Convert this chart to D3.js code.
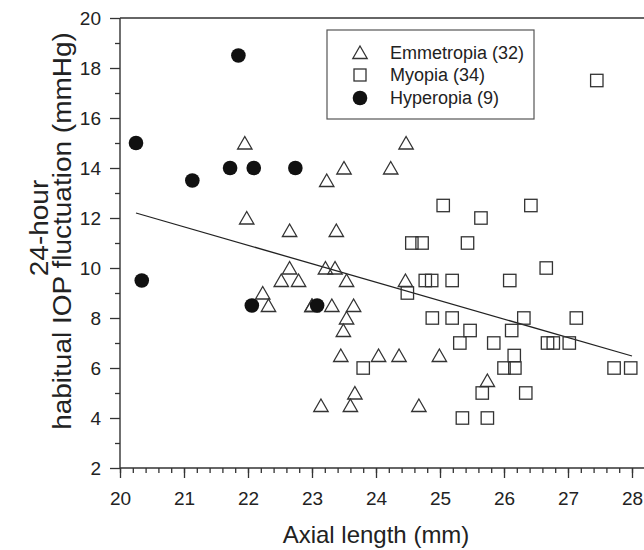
<!DOCTYPE html>
<html>
<head>
<meta charset="utf-8">
<script src="https://cdn.jsdelivr.net/npm/d3@7"></script>
<style>
  body { margin: 0; background: #fff; }
  text { font-family: "Liberation Sans", Arial, sans-serif; fill: #222; }
</style>
</head>
<body>
<svg id="chart" width="644" height="550"></svg>
<script>
    // emmetropia (triangles)
    var emmX = [21.95, 24.47, 23.5, 24.23, 23.23, 21.98, 22.65, 23.38, 23.21, 23.36,
                23.54, 24.46, 23.31, 23.65, 23.54, 23.49, 23.45, 24.04, 24.36, 24.99,
                23.67, 23.14, 23.6, 24.67, 25.74, 22.65, 22.52, 22.79, 22.23, 22.32,
                23.0, 23.0];
    var emmY = [15, 15, 14, 14, 13.5, 12, 11.5, 11.5, 10, 10,
                9.5, 9.5, 8.5, 8.5, 8, 7.5, 6.5, 6.5, 6.5, 6.5,
                5, 4.5, 4.5, 4.5, 5.5, 10, 9.5, 9.5, 9, 8.5,
                8.5, 8.5];
    // myopia (squares)
    var myoX = [25.05, 25.64, 26.42, 24.56, 24.72, 25.43, 26.66, 26.09, 24.77, 24.87,
                25.19, 24.49, 24.88, 25.19, 26.31, 27.13, 25.47, 25.31, 23.8, 25.35,
                26.12, 25.84, 26.68, 26.77, 27.02, 26.16, 26.0, 26.17, 27.72, 27.98,
                25.66, 26.34, 25.74, 27.45];
    var myoY = [12.5, 12, 12.5, 11, 11, 11, 10, 9.5, 9.5, 9.5,
                9.5, 9, 8, 8, 8, 8, 7.5, 7, 6, 4,
                7.5, 7, 7, 7, 7, 6.5, 6, 6, 6, 6,
                5, 5, 4, 17.5];
    // hyperopia (filled circles)
    var hypX = [21.85, 20.25, 21.13, 21.72, 22.09, 22.74, 20.34, 22.06, 23.08];
    var hypY = [18.5, 15, 13.5, 14, 14, 14, 9.5, 8.5, 8.5];

    // regression line ends
    var fitX = [20.25, 28];
    var fitY = [12.2, 6.48];

    var xTicks = [20, 21, 22, 23, 24, 25, 26, 27, 28];
    var yTicks = [2, 4, 6, 8, 10, 12, 14, 16, 18, 20];
    var legendNames = ["Emmetropia (32)", "Myopia (34)", "Hyperopia (9)"];

    var ink = "#333";
    var svg = d3.select("#chart");

    var x = d3.scaleLinear().domain([20, 28]).range([120, 632]);
    var y = d3.scaleLinear().domain([2, 20]).range([468, 18]);

    // minor ticks
    svg.append("g")
        .attr("transform", "translate(0,468)")
        .call(d3.axisBottom(x).tickValues(d3.range(20, 28.01, 0.2)).tickSize(5).tickFormat(""))
        .call(g => g.select(".domain").remove());
    svg.append("g")
        .attr("transform", "translate(120,0)")
        .call(d3.axisLeft(y).tickValues(d3.range(3, 20, 2)).tickSize(5).tickFormat(""))
        .call(g => g.select(".domain").remove());

    // major ticks
    svg.append("g")
        .attr("transform", "translate(0,468)")
        .call(d3.axisBottom(x).tickValues(xTicks).tickSize(10).tickPadding(14));
    svg.append("g")
        .attr("transform", "translate(120,0)")
        .call(d3.axisLeft(y).tickValues(yTicks).tickSize(10).tickPadding(9));

    svg.selectAll(".domain").remove();
    svg.selectAll(".tick line").attr("stroke", ink).attr("stroke-width", 1.3);
    svg.selectAll(".tick text").attr("font-size", 19).attr("fill", "#222")
        .attr("font-family", "Liberation Sans, Arial, sans-serif");

    // frame lines (top + bottom run to the edge, no right side)
    svg.append("line").attr("x1", 120).attr("x2", 644).attr("y1", 18).attr("y2", 18)
        .attr("stroke", ink).attr("stroke-width", 1.4);
    svg.append("line").attr("x1", 120).attr("x2", 644).attr("y1", 468).attr("y2", 468)
        .attr("stroke", ink).attr("stroke-width", 1.4);
    svg.append("line").attr("x1", 120).attr("x2", 120).attr("y1", 18).attr("y2", 468)
        .attr("stroke", ink).attr("stroke-width", 1.4);

    // titles
    svg.append("text")
        .attr("x", 376).attr("y", 543)
        .attr("text-anchor", "middle")
        .attr("font-size", 24)
        .text("Axial length (mm)");

    svg.append("text")
        .attr("transform", "translate(48,228) rotate(-90) scale(1.12,1)")
        .attr("text-anchor", "middle")
        .attr("font-size", 25)
        .text("24-hour");
    svg.append("text")
        .attr("transform", "translate(71,231) rotate(-90) scale(1.12,1)")
        .attr("text-anchor", "middle")
        .attr("font-size", 25)
        .text("habitual IOP fluctuation (mmHg)");

    // fit line
    svg.append("line")
        .attr("x1", x(fitX[0])).attr("y1", y(fitY[0]))
        .attr("x2", x(fitX[1])).attr("y2", y(fitY[1]))
        .attr("stroke", "#222").attr("stroke-width", 1.3);

    var triPath = "M0,-6.5L7.2,6L-7.2,6Z";

    svg.append("g").selectAll("path")
        .data(d3.range(emmX.length))
        .join("path")
        .attr("d", triPath)
        .attr("transform", i => "translate(" + x(emmX[i]) + "," + y(emmY[i]) + ")")
        .attr("fill", "none").attr("stroke", ink).attr("stroke-width", 1.3);

    svg.append("g").selectAll("rect")
        .data(d3.range(myoX.length))
        .join("rect")
        .attr("x", i => x(myoX[i]) - 6.2).attr("y", i => y(myoY[i]) - 6.2)
        .attr("width", 12.4).attr("height", 12.4)
        .attr("fill", "none").attr("stroke", ink).attr("stroke-width", 1.3);

    svg.append("g").selectAll("circle")
        .data(d3.range(hypX.length))
        .join("circle")
        .attr("cx", i => x(hypX[i])).attr("cy", i => y(hypY[i]))
        .attr("r", 7.3)
        .attr("fill", "#111");

    // legend
    var lg = svg.append("g");
    lg.append("rect").attr("x", 327).attr("y", 30).attr("width", 207).attr("height", 89)
        .attr("fill", "#fff").attr("stroke", "#555").attr("stroke-width", 1.2);
    var rowY = [52.5, 75, 98];
    lg.append("path").attr("d", triPath).attr("transform", "translate(360," + rowY[0] + ")")
        .attr("fill", "none").attr("stroke", ink).attr("stroke-width", 1.3);
    lg.append("rect").attr("x", 354).attr("y", rowY[1] - 6).attr("width", 12).attr("height", 12)
        .attr("fill", "none").attr("stroke", ink).attr("stroke-width", 1.3);
    lg.append("circle").attr("cx", 360).attr("cy", rowY[2]).attr("r", 7.3).attr("fill", "#111");
    lg.selectAll("text.lbl")
        .data(legendNames)
        .join("text")
        .attr("class", "lbl")
        .attr("x", 390).attr("y", (d, i) => rowY[i])
        .attr("dy", "0.36em")
        .attr("font-size", 18)
        .text(d => d);
</script>
</body>
</html>
